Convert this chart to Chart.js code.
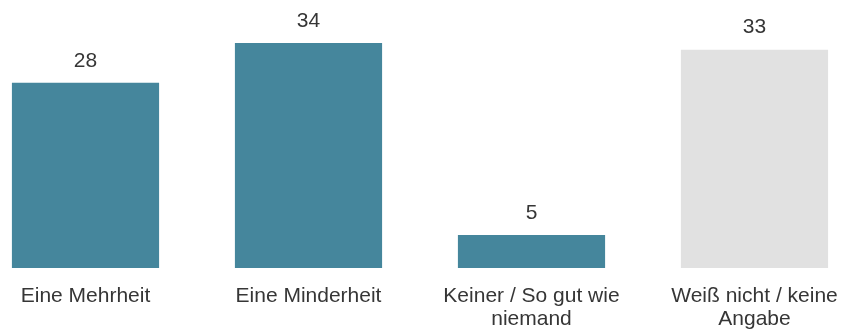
<!DOCTYPE html>
<html>
<head>
<meta charset="utf-8">
<script src="https://cdn.jsdelivr.net/npm/chart.js@4"></script>
<style>
  html, body { margin: 0; padding: 0; background: #fff; overflow: hidden; }
  #wrap { position: relative; width: 845px; height: 330px; overflow: hidden; }
  #chart { position: absolute; left: -26px; top: 0; }
</style>
</head>
<body>
<div id="wrap"><canvas id="chart" width="892" height="330"></canvas></div>
<script>
const categories = [
  "Eine Mehrheit",
  "Eine Minderheit",
  ["Keiner / So gut wie", "niemand"],
  ["Weiß nicht / keine", "Angabe"]
];
const values = [28, 34, 5, 33];
const barColors = ["#45869c", "#45869c", "#45869c", "#e1e1e1"];

// prints each value centred above its bar
const valueLabels = {
  id: "valueLabels",
  afterDatasetsDraw(chart) {
    const ctx = chart.ctx;
    const meta = chart.getDatasetMeta(0);
    ctx.save();
    ctx.font = "21px 'Liberation Sans', Arial, sans-serif";
    ctx.fillStyle = "#363636";
    ctx.textAlign = "center";
    ctx.textBaseline = "middle";
    meta.data.forEach((bar, i) => {
      ctx.fillText(String(values[i]), bar.x, bar.y - 22);
    });
    ctx.restore();
  }
};

new Chart(document.getElementById("chart"), {
  type: "bar",
  data: {
    labels: categories,
    datasets: [{
      data: values,
      backgroundColor: barColors,
      borderWidth: 0,
      categoryPercentage: 1,
      barPercentage: 0.66
    }]
  },
  options: {
    responsive: false,
    animation: false,
    layout: { padding: 0 },
    plugins: {
      legend: { display: false },
      tooltip: { enabled: false }
    },
    scales: {
      x: {
        grid: { display: false, drawTicks: false },
        border: { display: false },
        ticks: {
          color: "#363636",
          font: { family: "'Liberation Sans', Arial, sans-serif", size: 21, lineHeight: 1.1 },
          padding: 17,
          maxRotation: 0,
          autoSkip: false
        },
        // fixed band under the bars for the two-line labels
        afterFit(scale) {
          scale.height = 62;
        }
      },
      y: {
        display: false,
        min: 0,
        max: 40.5
      }
    }
  },
  plugins: [valueLabels]
});
</script>
</body>
</html>
